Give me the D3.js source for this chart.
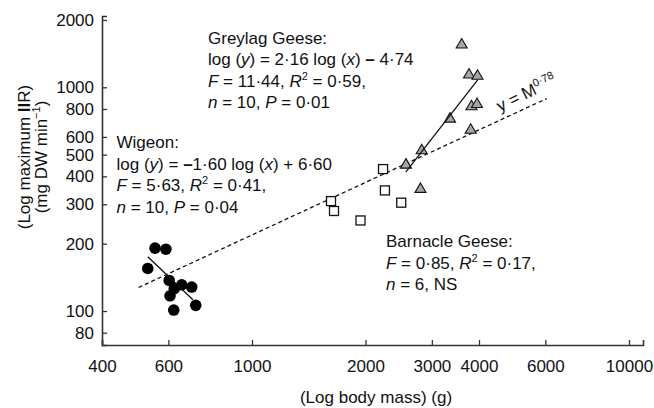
<!DOCTYPE html>
<html>
<head>
<meta charset="utf-8">
<script src="https://cdn.jsdelivr.net/npm/d3@7"></script>
<style>
  body { margin: 0; background: #fff; }
  svg { display: block; font-family: "Liberation Sans", Arial, sans-serif; }
  text { fill: #111; }
</style>
</head>
<body>
<div id="chart"></div>
<script>
// body mass (g) vs maximum IIR (mg DW min-1)
var wigeonMass = [553, 591, 529, 603, 651, 692, 622, 606, 709, 620];
var wigeonRate = [191, 189, 155, 137, 131, 128, 126, 117, 106, 101];
var barnacleMass = [1620, 1650, 1940, 2226, 2252, 2488];
var barnacleRate = [310, 280, 254, 431, 346, 305];
var greylagMass = [3599, 3763, 3963, 3821, 3952, 3351, 3802, 2819, 2561, 2798];
var greylagRate = [1573, 1155, 1141, 833, 853, 734, 654, 530, 457, 356];

// fitted lines: [slope, intercept] on log10 scale, plus mass span drawn
var wigeonFit = [-1.60, 6.60];
var wigeonSpan = [529, 697];
var greylagFit = [2.16, -4.74];
var greylagSpan = [2557, 3969];
var allometricFit = [0.78, 0];
var allometricSpan = [500, 6050];

var xTicks = [400, 600, 1000, 2000, 3000, 4000, 6000, 10000];
var yTicks = [80, 100, 200, 300, 400, 500, 600, 800, 1000, 2000];

var width = 654, height = 408;
var svg = d3.select('#chart').append('svg')
    .attr('width', width)
    .attr('height', height);

var x = d3.scaleLog().domain([400, 10893]).range([102, 643]);
var y = d3.scaleLog().domain([70.5, 2083]).range([345, 16]);

var axisColor = '#333';

// axes
var xAxis = svg.append('g')
    .attr('transform', 'translate(0,' + y.range()[0] + ')')
    .call(d3.axisBottom(x).tickValues(xTicks).tickSize(-5).tickPadding(12).tickFormat(d3.format('d')));
var yAxis = svg.append('g')
    .attr('transform', 'translate(' + x.range()[0] + ',0)')
    .call(d3.axisLeft(y).tickValues(yTicks).tickSize(-5).tickPadding(8).tickFormat(d3.format('d')));

[xAxis, yAxis].forEach(function (g) {
    g.select('.domain').attr('stroke', axisColor).attr('stroke-width', 1.6);
    g.selectAll('.tick line').attr('stroke', axisColor).attr('stroke-width', 1.3);
    g.selectAll('.tick text')
        .attr('fill', '#111')
        .style('font-size', '17px')
        .style('font-family', '"Liberation Sans", Arial, sans-serif');
});
xAxis.selectAll('.tick text').attr('dy', '0.71em').attr('y', 15);

// fitted lines
function fitLine(fit, span) {
    var pts = span.map(function (m) {
        return [m, Math.pow(10, fit[0] * Math.log10(m) + fit[1])];
    });
    return d3.line().x(function (d) { return x(d[0]); }).y(function (d) { return y(d[1]); })(pts);
}

svg.append('path')
    .attr('d', fitLine(allometricFit, allometricSpan))
    .attr('fill', 'none')
    .attr('stroke', '#111')
    .attr('stroke-width', 1.3)
    .attr('stroke-dasharray', '4,3');

// wigeon circles
svg.append('g').selectAll('circle')
    .data(d3.range(wigeonMass.length))
    .enter()
    .append('circle')
    .attr('cx', function (i) { return x(wigeonMass[i]); })
    .attr('cy', function (i) { return y(wigeonRate[i]); })
    .attr('r', 5.8)
    .attr('fill', '#000');

// barnacle squares
var sq = 9;
svg.append('g').selectAll('rect')
    .data(d3.range(barnacleMass.length))
    .enter()
    .append('rect')
    .attr('x', function (i) { return x(barnacleMass[i]) - sq / 2; })
    .attr('y', function (i) { return y(barnacleRate[i]) - sq / 2; })
    .attr('width', sq)
    .attr('height', sq)
    .attr('fill', '#fff')
    .attr('stroke', '#111')
    .attr('stroke-width', 1.3);

// greylag triangles
var tw = 11, th = 9.5;
svg.append('g').selectAll('path')
    .data(d3.range(greylagMass.length))
    .enter()
    .append('path')
    .attr('transform', function (i) { return 'translate(' + x(greylagMass[i]) + ',' + y(greylagRate[i]) + ')'; })
    .attr('d', 'M0,' + (-th / 2) + 'L' + (tw / 2) + ',' + (th / 2) + 'L' + (-tw / 2) + ',' + (th / 2) + 'Z')
    .attr('fill', '#a6a6a6')
    .attr('stroke', '#111')
    .attr('stroke-width', 1.1);

svg.append('path')
    .attr('d', fitLine(wigeonFit, wigeonSpan))
    .attr('fill', 'none')
    .attr('stroke', '#111')
    .attr('stroke-width', 1.3);

svg.append('path')
    .attr('d', fitLine(greylagFit, greylagSpan))
    .attr('fill', 'none')
    .attr('stroke', '#111')
    .attr('stroke-width', 1.3);

// annotation helper: each line is a list of [text, style] parts
function block(x0, y0, lines) {
    var t = svg.append('text').attr('x', x0).attr('y', y0).style('font-size', '17px');
    lines.forEach(function (parts, li) {
        parts.forEach(function (p, pi) {
            var s = t.append('tspan').text(p[0]);
            if (pi === 0) s.attr('x', x0).attr('dy', li === 0 ? 0 : 21.5);
            if (p[1] === 'i') s.style('font-style', 'italic');
            if (p[1] === 'b') s.style('font-weight', 'bold');
            if (p[1] === 'sup') s.attr('dy', -7).style('font-size', '11px');
            if (p[1] === 'after') s.attr('dy', 7);
        });
    });
    return t;
}

block(208, 43.5, [
    [['Greylag Geese:']],
    [['log ('], ['y', 'i'], [') = 2·16 log ('], ['x', 'i'], [') '], ['\u2013', 'b'], [' 4·74']],
    [['F', 'i'], [' = 11·44, '], ['R', 'i'], ['2', 'sup'], [' = 0·59,', 'after']],
    [['n', 'i'], [' = 10, '], ['P', 'i'], [' = 0·01']]
]);

block(116.5, 148, [
    [['Wigeon:']],
    [['log ('], ['y', 'i'], [') = '], ['\u2013', 'b'], ['1·60 log ('], ['x', 'i'], [') + 6·60']],
    [['F', 'i'], [' = 5·63, '], ['R', 'i'], ['2', 'sup'], [' = 0·41,', 'after']],
    [['n', 'i'], [' = 10, '], ['P', 'i'], [' = 0·04']]
]);

block(386, 247, [
    [['Barnacle Geese:']],
    [['F', 'i'], [' = 0·85, '], ['R', 'i'], ['2', 'sup'], [' = 0·17,', 'after']],
    [['n', 'i'], [' = 6, NS']]
]);

// allometric label
var al = svg.append('text')
    .attr('transform', 'translate(500,112) rotate(-26)')
    .style('font-size', '17px');
al.append('tspan').text('y = M');
al.append('tspan').text('0·78').attr('dy', -7).style('font-size', '11px');

// axis titles
svg.append('text')
    .attr('x', 376)
    .attr('y', 403)
    .attr('text-anchor', 'middle')
    .style('font-size', '17px')
    .text('(Log body mass) (g)');

var yt = svg.append('text')
    .attr('transform', 'translate(30,157) rotate(-90)')
    .attr('text-anchor', 'middle')
    .style('font-size', '17px');
yt.append('tspan').text('(Log maximum ');
yt.append('tspan').text('II').style('font-weight', 'bold');
yt.append('tspan').text('R)');

var yt2 = svg.append('text')
    .attr('transform', 'translate(47,157) rotate(-90)')
    .attr('text-anchor', 'middle')
    .style('font-size', '17px');
yt2.append('tspan').text('(mg DW min');
yt2.append('tspan').text('\u22121').attr('dy', -7).style('font-size', '11px');
yt2.append('tspan').text(')').attr('dy', 7);
</script>
</body>
</html>
